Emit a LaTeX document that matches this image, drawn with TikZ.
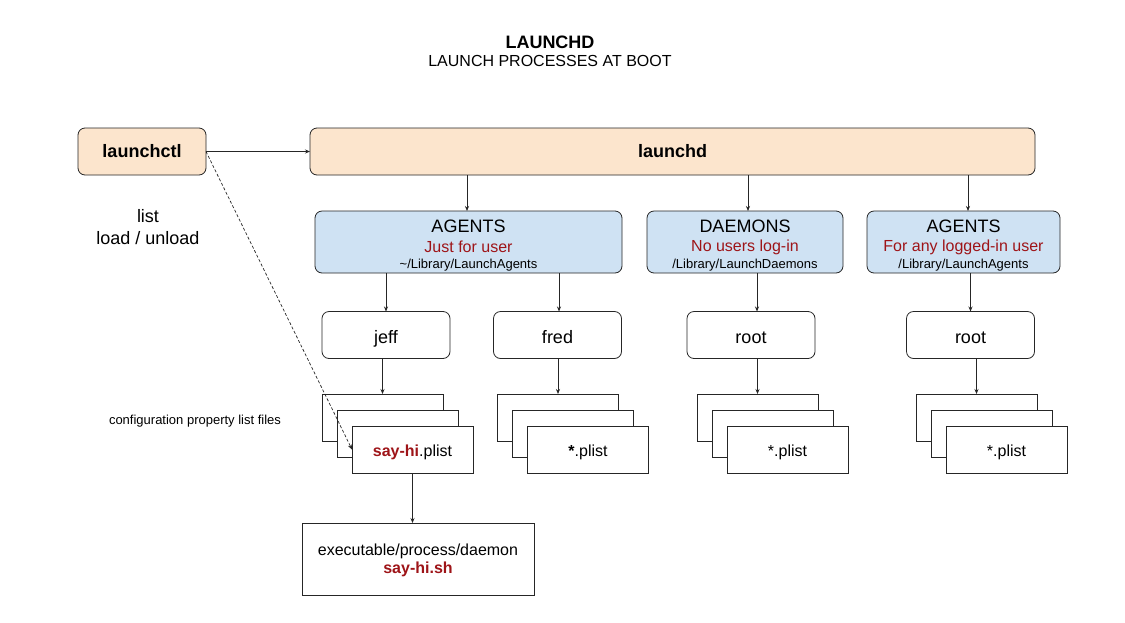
\documentclass[tikz,border=0pt]{standalone}
\usepackage{fontspec}
\setmainfont{Liberation Sans}
\usetikzlibrary{arrows.meta}
\definecolor{peach}{HTML}{FCE5CD}
\definecolor{lblue}{HTML}{CFE2F3}
\definecolor{dred}{HTML}{9E1418}
\definecolor{edge}{HTML}{262626}
\newcommand{\fs}[1]{\fontsize{#1}{#1}\selectfont}
\begin{document}
\begin{tikzpicture}[x=1pt,y=-1pt,
  every node/.style={inner sep=0pt, outer sep=0pt},
  peachbox/.style={draw=edge, line width=0.8pt, fill=peach, rounded corners=7pt},
  bluebox/.style={draw=edge, line width=0.8pt, fill=lblue, rounded corners=7pt, align=center},
  userbox/.style={draw=edge, line width=0.8pt, fill=white, rounded corners=7pt, minimum width=128pt, minimum height=47pt, font=\fs{18}, text height=16pt, text depth=0pt},
  plistbox/.style={draw=edge, line width=0.8pt, fill=white, minimum width=121pt, minimum height=47pt, font=\fs{16}, text height=13pt, text depth=0pt},
  arr/.style={draw=edge, line width=0.7pt, -{Stealth[length=5pt,width=4pt]}},
  dasharr/.style={draw=edge, line width=0.7pt, dash pattern=on 3pt off 2pt, -{Stealth[length=5pt,width=4pt]}}
]
\useasboundingbox (0,0) rectangle (1125,622);
\fill[white] (0,0) rectangle (1125,622);

% title
\node (title) at (550,42) {\fs{18}\bfseries LAUNCHD};
\node (subtitle) at (550,61) {\fs{16}LAUNCH PROCESSES AT BOOT};

% top row
\node[peachbox, minimum width=128pt, minimum height=47pt] (ctl) at (142,151.5) {\fs{18}\bfseries launchctl};
\node[peachbox, minimum width=725pt, minimum height=47pt] (ld) at (672.5,151.5) {\fs{18}\bfseries launchd};

\node[anchor=base] (cmd1) at (148,222) {\fs{18}list};
\node[anchor=base] (cmd2) at (148,244) {\fs{18}load / unload};
\node (cfg) at (195,421) {\fs{13}configuration property list files};

% category boxes
\node[bluebox, minimum width=307pt, minimum height=62pt] (ag1) at (468.5,242) {};
\node[bluebox, minimum width=196pt, minimum height=62pt] (dae) at (745,242) {};
\node[bluebox, minimum width=193pt, minimum height=62pt] (ag2) at (963.5,242) {};

\node (ag1a) at (468.5,226) {\fs{18}AGENTS};
\node (ag1b) at (468.5,247) {\fs{16}\color{dred}Just for user};
\node (ag1c) at (468.5,265) {\fs{13}\textasciitilde/Library/LaunchAgents};
\node (daea) at (745,226) {\fs{18}DAEMONS};
\node (daeb) at (745,247) {\fs{16}\color{dred}No users log-in};
\node (daec) at (745,265) {\fs{13}/Library/LaunchDaemons};
\node (ag2a) at (963.5,226) {\fs{18}AGENTS};
\node (ag2b) at (963.5,247) {\fs{16}\color{dred}For any logged-in user};
\node (ag2c) at (963.5,265) {\fs{13}/Library/LaunchAgents};

% users
\node[userbox] (jeff) at (386,335) {jeff};
\node[userbox] (fred) at (557.5,335) {fred};
\node[userbox] (root1) at (751,335) {root};
\node[userbox] (root2) at (970.5,335) {root};

% plist stacks
\node[plistbox] (jb) at (382.5,417.5) {};
\node[plistbox] (jm) at (397.5,433.5) {};
\node[plistbox] (jf) at (412.5,449.5) {\textcolor{dred}{\bfseries say-hi}.plist};

\node[plistbox] (fb) at (558,417.5) {};
\node[plistbox] (fm) at (573,433.5) {};
\node[plistbox] (ff) at (588,449.5) {\textbf{*}.plist};

\node[plistbox] (rb) at (757.5,417.5) {};
\node[plistbox] (rm) at (772.5,433.5) {};
\node[plistbox] (rf) at (787.5,449.5) {*.plist};

\node[plistbox] (sb) at (976.5,417.5) {};
\node[plistbox] (sm) at (991.5,433.5) {};
\node[plistbox] (sf) at (1006.5,449.5) {*.plist};

% executable
\node[draw=edge, line width=0.8pt, fill=white, minimum width=232pt, minimum height=72pt] (exe) at (418,559) {};
\node[anchor=base] (exe1) at (418,555.5) {\fs{16}executable/process/daemon};
\node[anchor=base] (exe2) at (418,573.5) {\fs{16}\textcolor{dred}{\bfseries say-hi.sh}};

% connectors
\draw[arr] (ctl.east) -- (ld.west);
\draw[dasharr] (ctl.east) -- (jf.west);

\draw[arr] ([xshift=-1.5pt]ag1.north |- ld.south) -- ([xshift=-1.5pt]ag1.north);
\draw[arr] ([xshift=3pt]dae.north |- ld.south) -- ([xshift=3pt]dae.north);
\draw[arr] ([xshift=4.5pt]ag2.north |- ld.south) -- ([xshift=4.5pt]ag2.north);

\draw[arr] (jeff.north |- ag1.south) -- (jeff.north);
\draw[arr] ([xshift=1.5pt]fred.north |- ag1.south) -- ([xshift=1.5pt]fred.north);
\draw[arr] ([xshift=6pt]root1.north |- dae.south) -- ([xshift=6pt]root1.north);
\draw[arr] (root2.north |- ag2.south) -- (root2.north);

\draw[arr] (jb.north |- jeff.south) -- (jb.north);
\draw[arr] (fb.north |- fred.south) -- (fb.north);
\draw[arr] (rb.north |- root1.south) -- (rb.north);
\draw[arr] (sb.north |- root2.south) -- (sb.north);

\draw[arr] (jf.south) -- (jf.south |- exe.north);
\end{tikzpicture}
\end{document}
